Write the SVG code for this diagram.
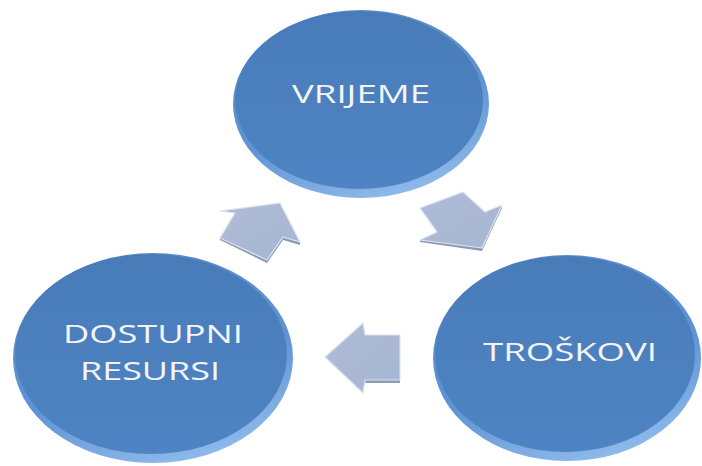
<svg xmlns="http://www.w3.org/2000/svg" width="702" height="466" viewBox="0 0 702 466">
<defs>
<linearGradient id="rim" x1="0.2" y1="0" x2="0.6" y2="1">
<stop offset="0" stop-color="#5A8BC9"/>
<stop offset="0.6" stop-color="#5F93D3"/>
<stop offset="1" stop-color="#8DB9EB"/>
</linearGradient>
<linearGradient id="face" x1="0" y1="0" x2="0" y2="1">
<stop offset="0" stop-color="#497BB9"/>
<stop offset="1" stop-color="#4E84C3"/>
</linearGradient>
<linearGradient id="arr" x1="0" y1="0" x2="1" y2="1">
<stop offset="0" stop-color="#AEBCD7"/>
<stop offset="1" stop-color="#A6B5D1"/>
</linearGradient>
</defs>
<style>
.rim{fill:url(#rim);}
.face{fill:url(#face);}
.lbl{font-family:"Open Sans","Noto Sans",sans-serif;font-size:25px;fill:#F4F4F4;}
.arrow{fill:url(#arr);stroke:#DCE3EF;stroke-width:1.2;stroke-linejoin:round;}
.shade{fill:#8C9BB8;}
</style>
<g id="connectors">
<g id="arrow-up">
<polygon class="shade" points="220,240 267,263 283,240 300,245 300,242 283,237 267,260 220,238"/>
<polygon class="arrow" points="280,203 300,242 283,237 267,260 220,238 235,213 220,211"/>
</g>
<g id="arrow-down">
<polygon class="shade" points="420,242 482,251 502,208 502,205 482,248 420,240"/>
<polygon class="arrow" points="420,208 463,192 485,212 502,205 482,248 420,240 437,232"/>
</g>
<g id="arrow-left">
<polygon class="shade" points="365,380 400,380 400,383 365,383"/>
<polygon class="arrow" points="325,357 363,323 365,335 400,335 400,380 365,380 363,393"/>
</g>
</g>
<g id="node-vrijeme">
<ellipse class="rim" cx="361" cy="104" rx="128" ry="94"/>
<ellipse class="face" cx="359" cy="100" rx="124" ry="89"/>
<text class="lbl" x="361" y="103" text-anchor="middle" textLength="138" lengthAdjust="spacingAndGlyphs">VRIJEME</text>
</g>
<g id="node-troskovi">
<ellipse class="rim" cx="567" cy="358" rx="134" ry="103"/>
<ellipse class="face" cx="565" cy="354" rx="130" ry="98"/>
<text class="lbl" x="570" y="361" text-anchor="middle" textLength="174" lengthAdjust="spacingAndGlyphs">TROŠKOVI</text>
</g>
<g id="node-dostupni">
<ellipse class="rim" cx="153" cy="358" rx="140" ry="105"/>
<ellipse class="face" cx="151" cy="354" rx="136" ry="100"/>
<text class="lbl" x="153" y="343" text-anchor="middle" textLength="180" lengthAdjust="spacingAndGlyphs">DOSTUPNI</text>
<text class="lbl" x="150" y="380" text-anchor="middle" textLength="140" lengthAdjust="spacingAndGlyphs">RESURSI</text>
</g>
</svg>
